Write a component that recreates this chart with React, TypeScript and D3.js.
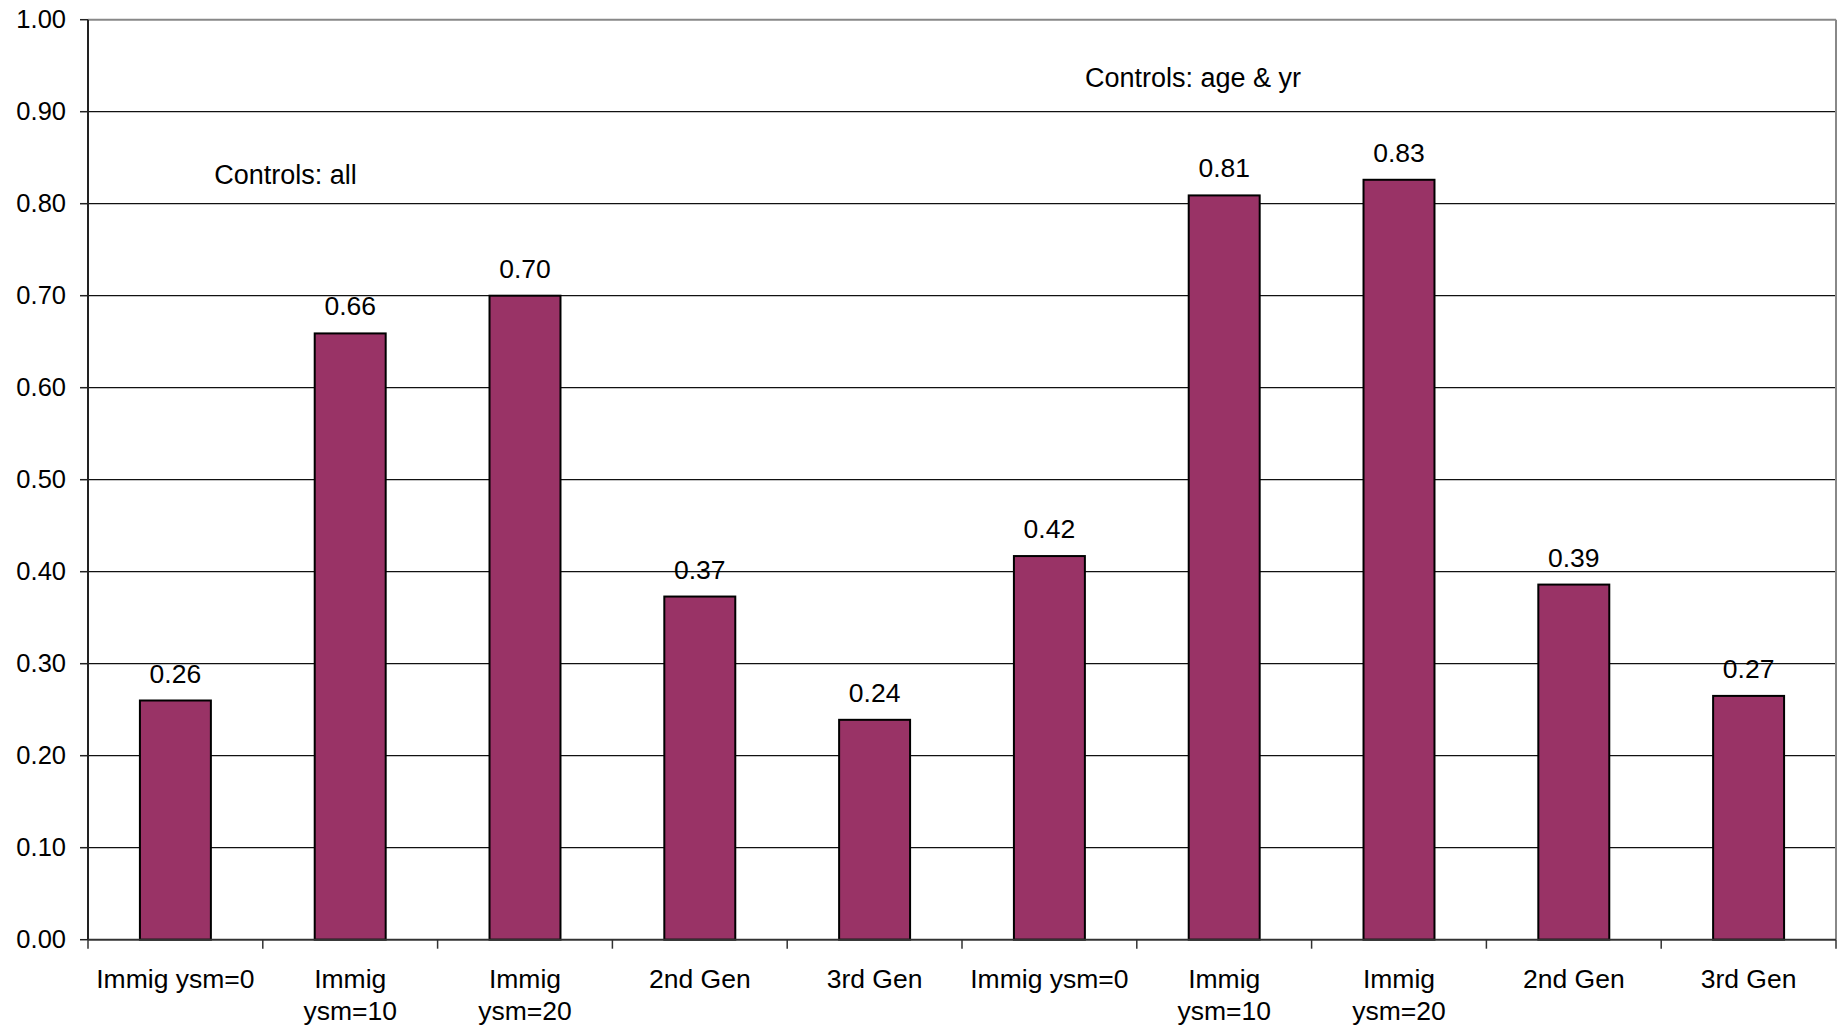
import React from "react";
import * as d3 from "d3";

const categories: string[][] = [
  ["Immig ysm=0"],
  ["Immig", "ysm=10"],
  ["Immig", "ysm=20"],
  ["2nd Gen"],
  ["3rd Gen"],
  ["Immig ysm=0"],
  ["Immig", "ysm=10"],
  ["Immig", "ysm=20"],
  ["2nd Gen"],
  ["3rd Gen"],
];
const values: number[] = [0.26, 0.659, 0.7, 0.373, 0.239, 0.417, 0.809, 0.826, 0.386, 0.265];
const yTicks: number[] = [0, 0.1, 0.2, 0.3, 0.4, 0.5, 0.6, 0.7, 0.8, 0.9, 1.0];
const annotations: string[] = ["Controls: all", "Controls: age & yr"];

const W = 1847;
const H = 1029;
const M = { left: 88, right: 11, top: 19.7, bottom: 89.3 };
const FONT = "'Liberation Sans', Arial, sans-serif";

export default function App() {
  const x = d3
    .scaleBand<number>()
    .domain(d3.range(categories.length))
    .range([M.left, W - M.right])
    .padding(0);
  const y = d3.scaleLinear().domain([0, 1]).range([H - M.bottom, M.top]);
  const bw = x.bandwidth() * 0.406;
  const x0 = M.left;
  const x1 = W - M.right;
  const yb = y(0);
  const yt = y(1);
  const fmt = d3.format(".2f");

  return (
    <svg
      width={W}
      height={H}
      style={{ position: "absolute", left: 0, top: 0, background: "#fff" }}
      fontFamily={FONT}
    >
      <rect x={0} y={0} width={W} height={H} fill="#fff" />
      {yTicks
        .filter((t) => t > 0 && t < 1)
        .map((t) => (
          <line key={t} x1={x0} x2={x1} y1={y(t)} y2={y(t)} stroke="#111" strokeWidth={1.2} />
        ))}
      <line x1={x0} x2={x1} y1={yt} y2={yt} stroke="#888" strokeWidth={2} />
      <line x1={x1} x2={x1} y1={yt} y2={yb} stroke="#888" strokeWidth={2} />
      {values.map((v, i) => {
        const cx = (x(i) as number) + x.bandwidth() / 2;
        return (
          <g key={i}>
            <rect
              x={cx - bw / 2}
              y={y(v)}
              width={bw}
              height={yb - y(v)}
              fill="#993366"
              stroke="#000"
              strokeWidth={2}
            />
            <text x={cx} y={y(v) - 18} textAnchor="middle" fontSize={26.5} fill="#000">
              {fmt(v)}
            </text>
          </g>
        );
      })}
      <line x1={x0} x2={x0} y1={yt} y2={yb} stroke="#222" strokeWidth={2} />
      {yTicks.map((t) => (
        <g key={t}>
          <line x1={x0 - 8} x2={x0} y1={y(t)} y2={y(t)} stroke="#222" strokeWidth={1.5} />
          <text x={66} y={y(t) + 8.5} textAnchor="end" fontSize={25.5} fill="#000">
            {fmt(t)}
          </text>
        </g>
      ))}
      <line x1={x0} x2={x1} y1={yb} y2={yb} stroke="#333" strokeWidth={2} />
      {d3.range(categories.length + 1).map((i) => (
        <line
          key={i}
          x1={M.left + x.bandwidth() * i}
          x2={M.left + x.bandwidth() * i}
          y1={yb}
          y2={yb + 9}
          stroke="#333"
          strokeWidth={1.5}
        />
      ))}
      {categories.map((lines, i) => {
        const cx = (x(i) as number) + x.bandwidth() / 2;
        return (
          <text key={i} textAnchor="middle" fontSize={26.5} fill="#000">
            {lines.map((l, j) => (
              <tspan key={j} x={cx} y={988 + j * 31.8}>
                {l}
              </tspan>
            ))}
          </text>
        );
      })}
      <text x={285.5} y={184.3} textAnchor="middle" fontSize={27} fill="#000">
        {annotations[0]}
      </text>
      <text x={1193} y={86.7} textAnchor="middle" fontSize={27} fill="#000">
        {annotations[1]}
      </text>
    </svg>
  );
}
